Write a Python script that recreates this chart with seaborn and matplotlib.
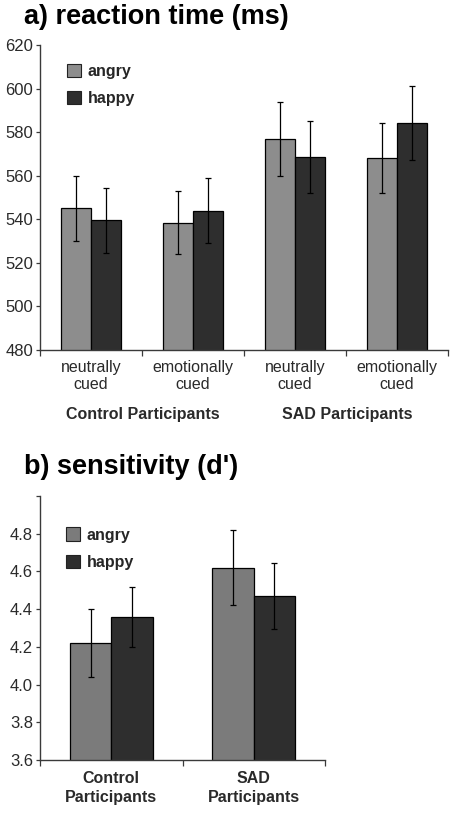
import matplotlib
matplotlib.use("Agg")
import matplotlib.pyplot as plt
import seaborn as sns
import pandas as pd
import numpy as np
from matplotlib.patches import Patch
from matplotlib.ticker import FixedLocator

# ---------------- data ----------------
rt_keys = ["Control neutral", "Control emotional", "SAD neutral", "SAD emotional"]
rt_ticklabels = ["neutrally\ncued", "emotionally\ncued", "neutrally\ncued", "emotionally\ncued"]
rt_groups = ["Control Participants", "SAD Participants"]
rt_angry = [545, 538.5, 577, 568]
rt_angry_err = [15, 14.5, 17, 16]
rt_happy = [539.5, 544, 568.5, 584]
rt_happy_err = [15, 15, 16.5, 17]
rt_yticks = [480, 500, 520, 540, 560, 580, 600, 620]

d_groups = ["Control\nParticipants", "SAD\nParticipants"]
d_angry = [4.22, 4.62]
d_angry_err = [0.18, 0.20]
d_happy = [4.36, 4.47]
d_happy_err = [0.16, 0.175]
d_yticks = [3.6, 3.8, 4.0, 4.2, 4.4, 4.6, 4.8, 5.0]

emotions = ["angry", "happy"]

# ---------------- style ----------------
sns.set_theme(style="white")
plt.rcParams["font.family"] = ["Liberation Sans", "DejaVu Sans"]

W, H = 455, 814
fig = plt.figure(figsize=(W / 100, H / 100), dpi=100)

def px_axes(left, top, right, bottom):
    return fig.add_axes([left / W, 1 - bottom / H, (right - left) / W, (bottom - top) / H])

axA = px_axes(40, 45, 448, 350)
axB = px_axes(40, 496, 325, 760)

SPINE = "#3a3a3a"
TICKC = "#2a2a2a"


def draw(ax, keys, angry, angry_err, happy, happy_err, colors):
    df = pd.DataFrame({
        "cond": keys * 2,
        "emotion": [emotions[0]] * len(keys) + [emotions[1]] * len(keys),
        "value": list(angry) + list(happy),
    })
    sns.barplot(data=df, x="cond", y="value", hue="emotion", order=keys,
                hue_order=emotions, palette=colors, width=0.58,
                edgecolor="black", linewidth=0.9, errorbar=None,
                legend=False, ax=ax, saturation=1)
    for cont, errs in zip(ax.containers, [angry_err, happy_err]):
        xs = [p.get_x() + p.get_width() / 2 for p in cont.patches]
        ys = [p.get_height() for p in cont.patches]
        ax.errorbar(xs, ys, yerr=errs, fmt="none", ecolor="black",
                    elinewidth=0.9, capsize=2.2, capthick=0.9, zorder=5)
    handles = [Patch(facecolor=c, edgecolor="#222222", linewidth=0.8) for c in colors]
    return handles


# ---- panel a ----
hA = draw(axA, rt_keys, rt_angry, rt_angry_err, rt_happy, rt_happy_err,
          ["#8d8d8d", "#2e2e2e"])
axA.set_ylim(480, 620)
axA.set_xlim(-0.5, len(rt_keys) - 0.5)
axA.set_yticks(rt_yticks)
axA.set_yticklabels([str(v) for v in rt_yticks])
axA.set_xticks(range(len(rt_keys)))
axA.set_xticklabels(rt_ticklabels, linespacing=1.2)
axA.xaxis.set_minor_locator(FixedLocator(np.arange(-0.5, len(rt_keys), 1.0)))

# ---- panel b ----
hB = draw(axB, d_groups, d_angry, d_angry_err, d_happy, d_happy_err,
          ["#7b7b7b", "#2e2e2e"])
axB.set_ylim(3.6, 5.0)
axB.set_xlim(-0.5, len(d_groups) - 0.5)
axB.set_yticks(d_yticks)
axB.set_yticklabels([f"{v:.1f}" if v < 4.9 else "" for v in d_yticks])
axB.set_xticks(range(len(d_groups)))
axB.set_xticklabels(d_groups, fontweight="bold", linespacing=1.3)
axB.xaxis.set_minor_locator(FixedLocator(np.arange(-0.5, len(d_groups), 1.0)))

for ax, handles, xpad, anchor in [(axA, hA, 7, (0.05, 0.96)), (axB, hB, 8, (0.069, 0.905))]:
    ax.set_xlabel("")
    ax.set_ylabel("")
    sns.despine(ax=ax)
    for s in ["left", "bottom"]:
        ax.spines[s].set_color(SPINE)
        ax.spines[s].set_linewidth(1.0)
    ax.tick_params(axis="y", which="major", direction="out", length=3, width=0.9,
                   color=SPINE, pad=2, labelsize=12, labelcolor=TICKC, left=True)
    ax.tick_params(axis="x", which="major", length=0, pad=xpad, labelsize=11.5,
                   labelcolor=TICKC)
    ax.tick_params(axis="x", which="minor", direction="out", length=4, width=0.9,
                   color=SPINE, bottom=True)
    ax.legend(handles, emotions, loc="upper left", frameon=False,
              prop={"weight": "bold", "size": 11.5},
              handlelength=0.9, handleheight=0.9, handletextpad=0.4,
              labelspacing=0.75, borderaxespad=0.0,
              bbox_to_anchor=anchor)

# titles
fig.text(24 / W, 1 - 17 / H, "a) reaction time (ms)", fontsize=19.5,
         fontweight="bold", va="center", ha="left", color="black")
fig.text(24 / W, 1 - 467 / H, "b) sensitivity (d')", fontsize=19.5,
         fontweight="bold", va="center", ha="left", color="black")

# group labels under panel a
for label, cx in zip(rt_groups, [143, 347]):
    fig.text(cx / W, 1 - 414 / H, label, fontsize=11.5, fontweight="bold",
             ha="center", va="center", color=TICKC)

fig.savefig("out.png", dpi=100, facecolor="white")
